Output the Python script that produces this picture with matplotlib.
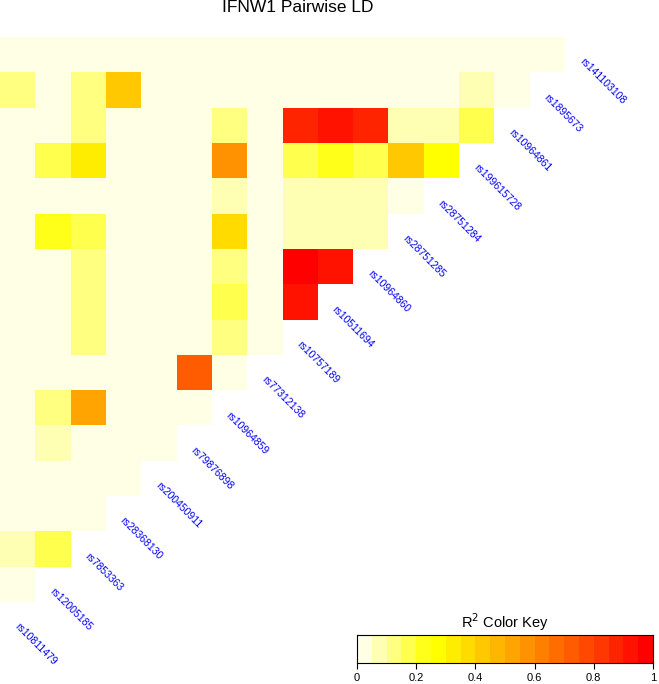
import numpy as np
import matplotlib
matplotlib.use("Agg")
import matplotlib.pyplot as plt
from matplotlib.colors import ListedColormap, BoundaryNorm, hsv_to_rgb

plt.rcParams['font.family'] = ['Liberation Sans', 'DejaVu Sans']

title = "IFNW1 Pairwise LD"
snps = ["rs141103108", "rs1895673", "rs10964861", "rs199615728", "rs28751284",
        "rs28751285", "rs10964860", "rs10511694", "rs10757189", "rs77312138",
        "rs10964859", "rs79876898", "rs200450911", "rs28368130", "rs7853363",
        "rs12005185", "rs10811479"]

# pairwise r^2, one row per staircase step (top row longest)
r2_rows = [
    [0.02, 0.02, 0.02, 0.02, 0.02, 0.02, 0.02, 0.02, 0.02, 0.02, 0.02, 0.02, 0.02, 0.02, 0.02, 0.02],
    [0.13, 0.02, 0.13, 0.42, 0.02, 0.02, 0.02, 0.02, 0.02, 0.02, 0.02, 0.02, 0.02, 0.07, 0.02],
    [0.02, 0.02, 0.13, 0.02, 0.02, 0.02, 0.13, 0.02, 0.87, 0.92, 0.87, 0.07, 0.07, 0.17],
    [0.02, 0.17, 0.32, 0.02, 0.02, 0.02, 0.57, 0.02, 0.17, 0.22, 0.17, 0.42, 0.27],
    [0.02, 0.02, 0.02, 0.02, 0.02, 0.02, 0.07, 0.02, 0.07, 0.07, 0.07, 0.02],
    [0.02, 0.22, 0.17, 0.02, 0.02, 0.02, 0.37, 0.02, 0.07, 0.07, 0.07],
    [0.02, 0.02, 0.13, 0.02, 0.02, 0.02, 0.13, 0.02, 0.97, 0.92],
    [0.02, 0.02, 0.13, 0.02, 0.02, 0.02, 0.17, 0.02, 0.92],
    [0.02, 0.02, 0.13, 0.02, 0.02, 0.02, 0.13, 0.02],
    [0.02, 0.02, 0.02, 0.02, 0.02, 0.72, 0.02],
    [0.02, 0.13, 0.52, 0.02, 0.02, 0.02],
    [0.02, 0.07, 0.02, 0.02, 0.02],
    [0.02, 0.02, 0.02, 0.02],
    [0.02, 0.02, 0.02],
    [0.07, 0.17],
    [0.02],
]
key_ticks = [0, 0.2, 0.4, 0.6, 0.8, 1]
key_labels = ["0", "0.2", "0.4", "0.6", "0.8", "1"]

# R style rev(heat.colors(20))
n = 20
j = n // 4
i = n - j
cols = [hsv_to_rgb((h, 1, 1)) for h in np.linspace(0, 1/6, i)]
cols += [hsv_to_rgb((1/6, s, 1)) for s in np.linspace(1 - 1/(2*j), 1/(2*j), j)]
cols = cols[::-1]
cmap = ListedColormap(cols)
bounds = np.linspace(0, 1, n + 1)
norm = BoundaryNorm(bounds, n)

nr = len(r2_rows)
mat = np.full((nr, nr), np.nan)
for r, row in enumerate(r2_rows):
    mat[r, :len(row)] = row
mat = np.ma.masked_invalid(mat)

W, H = 659, 684
fig = plt.figure(figsize=(W/100, H/100), dpi=100)

ax = fig.add_axes([0/W, 1 - 602/H, 565/W, 565/H])
ax.pcolormesh(np.arange(nr + 1), np.arange(nr + 1), mat, cmap=cmap, norm=norm)
ax.set_xlim(0, nr)
ax.set_ylim(nr, 0)
ax.axis('off')

for k, name in enumerate(snps):
    ax.text(nr + 0.45 - k, 0.66 + k, name, rotation=-45, rotation_mode='anchor',
            ha='left', va='center', color='#0000FF', fontsize=7.5, clip_on=False)

fig.text(298/W, 1 - 8/H, title, ha='center', va='center', fontsize=12.5)

# colour key
kax = fig.add_axes([357/W, 1 - 663/H, 296/W, 28/H])
kax.pcolormesh(bounds, [0, 1], bounds[:-1].reshape(1, -1) + 0.025, cmap=cmap, norm=norm)
kax.set_xlim(0, 1)
kax.set_ylim(0, 1)
kax.set_yticks([])
kax.set_xticks(key_ticks)
kax.set_xticklabels(key_labels, fontsize=8)
kax.tick_params(axis='x', length=4, width=0.8, pad=3)
for s in kax.spines.values():
    s.set_linewidth(0.8)
kax.set_title("R$^2$ Color Key", fontsize=10.5, pad=5)

fig.savefig("out.png", dpi=100)
